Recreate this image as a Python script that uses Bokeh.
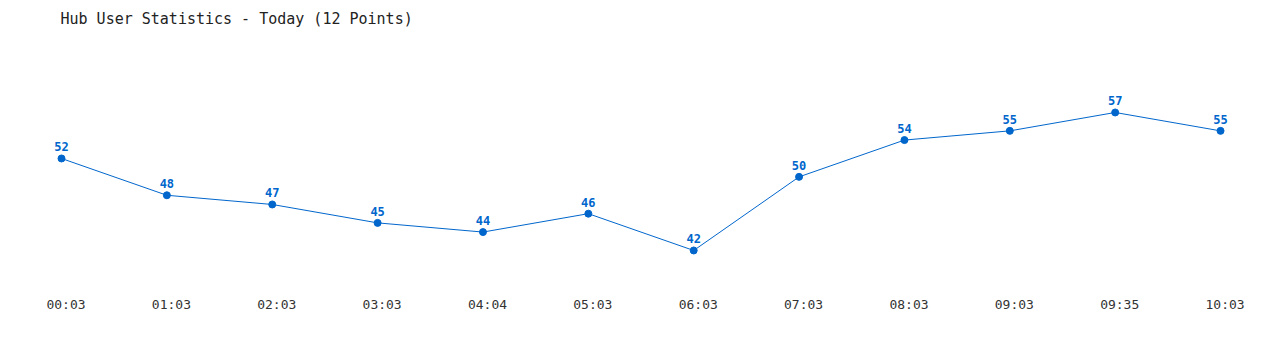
from bokeh.plotting import figure
from bokeh.models import Range1d, FixedTicker, Label, ColumnDataSource, LinearAxis
from bokeh.core.properties import value
from bokeh.embed import file_html
from bokeh.resources import INLINE

times = ["00:03", "01:03", "02:03", "03:03", "04:04", "05:03", "06:03", "07:03", "08:03", "09:03", "09:35", "10:03"]
users = [52, 48, 47, 45, 44, 46, 42, 50, 54, 55, 57, 55]
title_text = "Hub User Statistics - Today (12 Points)"

idx = list(range(len(times)))
src = ColumnDataSource(dict(x=idx, y=users, lbl=[str(u) for u in users]))

FONT = "DejaVu Sans Mono"
BLUE = "#0066cc"

X0, X1 = -0.579, 11.569
SHIFT = 0.043  # labels sit a few pixels right of the points

p = figure(width=1280, height=350, output_backend="svg", toolbar_location=None,
           x_range=Range1d(X0, X1), y_range=Range1d(37.65, 69.17),
           x_axis_type=None, y_axis_type=None,
           min_border_left=0, min_border_right=0, min_border_top=0, min_border_bottom=60,
           outline_line_color=None, background_fill_color="white", border_fill_color="white")
p.grid.visible = False
p.extra_x_ranges = {"lbl": Range1d(X0 - SHIFT, X1 - SHIFT)}

xa = LinearAxis(x_range_name="lbl")
xa.ticker = FixedTicker(ticks=idx)
xa.major_label_overrides = {i: t for i, t in enumerate(times)}
xa.axis_line_color = None
xa.major_tick_line_color = None
xa.minor_tick_line_color = None
xa.major_tick_out = 0
xa.major_label_standoff = 6
xa.major_label_text_font = FONT
xa.major_label_text_font_size = "13px"
xa.major_label_text_color = "#333333"
p.add_layout(xa, "below")

p.line("x", "y", source=src, line_color=BLUE, line_width=1)
p.scatter("x", "y", source=src, size=7, fill_color=BLUE, line_color=BLUE)
p.text("x", "y", text="lbl", source=src, text_font=value(FONT), text_font_size="12px",
       text_font_style="bold", text_color=BLUE, text_align="center", text_baseline="bottom",
       y_offset=-7)

p.add_layout(Label(x=60, y=272, x_units="screen", y_units="screen", text=title_text,
                   text_font=FONT, text_font_size="15px", text_color="#222222",
                   text_baseline="middle"))

open("out.html", "w").write(file_html(p, INLINE))
